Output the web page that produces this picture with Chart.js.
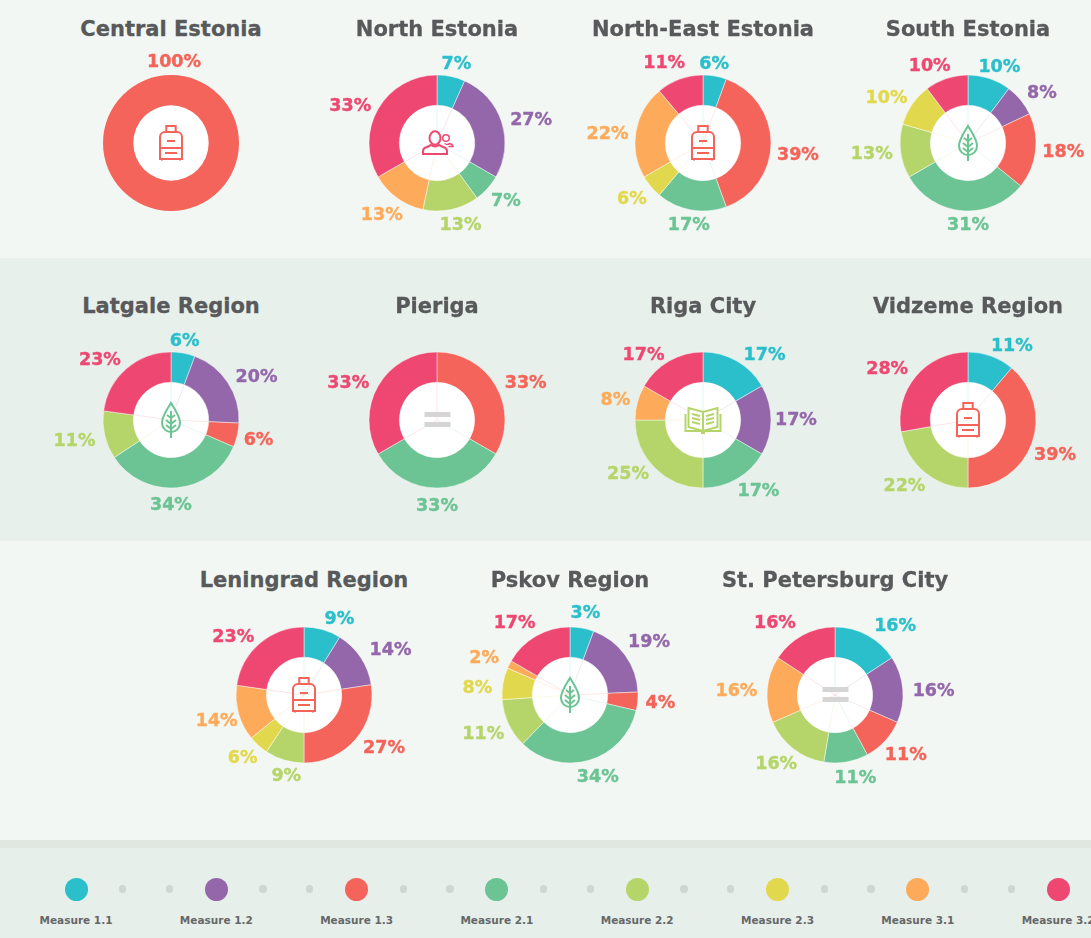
<!DOCTYPE html>
<html>
<head>
<meta charset="utf-8">
<title>Measures by region</title>
<script src="https://cdn.jsdelivr.net/npm/chart.js@4"></script>
<style>
  html, body { margin: 0; padding: 0; }
  body { position: relative; width: 1091px; height: 938px; overflow: hidden; background: #f2f7f3; font-family: "DejaVu Sans", Verdana, sans-serif; }
  .band { position: absolute; left: 0; width: 1091px; }
  .title { position: absolute; width: 300px; height: 30px; line-height: 30px; text-align: center; font-size: 21px; font-weight: bold; color: #58595b; -webkit-text-stroke: 0.3px #58595b; }
  .wrap { position: absolute; width: 260px; height: 210px; }
  .icon { position: absolute; left: 0; top: 0; pointer-events: none; }
  .dot { position: absolute; border-radius: 50%; }
  .measure { position: absolute; width: 120px; text-align: center; font-size: 10.5px; font-weight: bold; color: #666769; top: 913px; line-height: 14px; }
</style>
</head>
<body>
<div class="band" style="top:258px;height:283px;background:#e8f0eb"></div>
<div class="band" style="top:840px;height:8px;background:#e0e6e0"></div>
<div class="band" style="top:848px;height:90px;background:#e6efe9"></div>

<script>
const measures = ['Measure 1.1', 'Measure 1.2', 'Measure 1.3', 'Measure 2.1', 'Measure 2.2', 'Measure 2.3', 'Measure 3.1', 'Measure 3.2'];
const colors = ['#2bbfcb', '#9467ab', '#f4645a', '#6cc494', '#b5d56a', '#e2d84e', '#fdab5a', '#ee4872'];

// share of each measure, same order as measures
const centralEstonia = [0, 0, 100, 0, 0, 0, 0, 0];
const northEstonia = [6.67, 26.67, 0, 6.67, 13.33, 0, 13.33, 33.33];
const northEastEstonia = [5.56, 0, 38.89, 16.67, 0, 5.56, 22.22, 11.11];
const southEstonia = [10.26, 7.69, 17.95, 30.77, 12.82, 10.26, 0, 10.26];
const latgaleRegion = [5.71, 20, 5.71, 34.29, 11.43, 0, 0, 22.86];
const pieriga = [0, 0, 33.33, 33.33, 0, 0, 0, 33.33];
const rigaCity = [16.67, 16.67, 0, 16.67, 25, 0, 8.33, 16.67];
const vidzemeRegion = [11.11, 0, 38.89, 0, 22.22, 0, 0, 27.78];
const leningradRegion = [8.8, 13.8, 27.4, 0, 9.3, 4.8, 13.2, 22.7];
const pskovRegion = [5.7, 18.7, 4.4, 33.7, 11.7, 7.6, 1.9, 16.7];
const stPetersburgCity = [15.79, 15.79, 10.53, 10.53, 15.79, 0, 15.79, 15.79];

// printed labels that do not agree with the drawn slice widths
const printedLabels = {
  'Leningrad Region': [9, 14, 27, 0, 9, 6, 14, 23],
  'Pskov Region': [3, 19, 4, 34, 11, 8, 2, 17]
};

const regionNames = ['Central Estonia', 'North Estonia', 'North-East Estonia', 'South Estonia',
  'Latgale Region', 'Pieriga', 'Riga City', 'Vidzeme Region',
  'Leningrad Region', 'Pskov Region', 'St. Petersburg City'];
const regionValues = [centralEstonia, northEstonia, northEastEstonia, southEstonia,
  latgaleRegion, pieriga, rigaCity, vidzemeRegion,
  leningradRegion, pskovRegion, stPetersburgCity];
const regionIcons = ['bag', 'people', 'bag', 'leaf', 'leaf', 'equal', 'book', 'bag', 'bag', 'leaf', 'equal'];

// layout
const centres = [[171, 143], [437, 143], [703, 143], [968, 143],
  [171, 420], [437, 420], [703, 420], [968, 420],
  [304, 695], [570, 695], [835, 695]];
const titleOffset = 114;
const outerR = 68, innerR = 37.7;

// hand placed label corrections, slice index -> [dx, dy]
const labelNudges = {
  'Central Estonia': { 2: [3, -1] },
  'North Estonia': { 4: [3, -2], 6: [3, 2], 7: [-1, 2] },
  'North-East Estonia': { 0: [-5, 0], 2: [-4, 9], 3: [3, -2], 6: [2, 3], 7: [-5, -5] },
  'South Estonia': { 1: [2, 0], 2: [-3, -4], 3: [8, -3], 4: [2, -2], 7: [-7, -1] },
  'Latgale Region': { 0: [-3, 0], 1: [3, 0], 2: [-3, -1], 3: [-9, 0], 7: [-6, 0] },
  'Pieriga': { 2: [3, 2], 7: [-3, 2] },
  'Riga City': { 0: [12, 4], 1: [-6, -3], 3: [6, -3], 4: [-5, -7], 6: [2, -1], 7: [-10, 4] },
  'Vidzeme Region': { 0: [10, 1], 2: [-6, 4], 7: [-5, 0] },
  'Leningrad Region': { 0: [10, 1], 1: [4, -2], 2: [5, -4], 4: [9, -1], 5: [1, -1], 6: [8, 1], 7: [-6, 2] },
  'Pskov Region': { 0: [-1, -3], 1: [-1, -7], 2: [-2, -2], 4: [3, 1], 5: [-1, 4], 6: [-3, -2], 7: [-6, -3] },
  'St. Petersburg City': { 0: [13, 1], 2: [-2, 1], 3: [4, -1], 4: [2, 1], 7: [-13, -2] }
};

const icons = {
  bag: `<g fill="none" stroke="#f4645a" stroke-width="2"><path d="M-4.7 -11v-6h9.4v6"/><path d="M-11 16v-22a5 5 0 0 1 5-5h12a5 5 0 0 1 5 5v22z"/><path d="M-11 5h22M-4 -2h8M-6 10h12M-9 16v1.5M9 16v1.5"/></g>`,
  people: `<g fill="none" stroke="#ee4872" stroke-width="2"><ellipse cx="-2" cy="-5" rx="5.5" ry="6.7"/><path d="M-14 11v-3q0-3 4-4l4-2q4 3 8 0l4 2q4 1 4 4v3z"/><g stroke-width="1.5"><circle cx="9" cy="-5" r="3.3"/><path d="M7.5 .5q3 2 5 0q3 .5 3.5 3h-4.5"/></g></g>`,
  leaf: `<g fill="none" stroke="#6cc494" stroke-width="2"><path d="M0 -17C-3 -12 -9 -4 -9 3A9 9 0 0 0 9 3C9 -4 3 -12 0 -17z"/><path d="M0 -9V18M-4 -5L0 -2L4 -5M-5 0L0 4L5 0M-5 5L0 9L5 5"/></g>`,
  equal: `<g fill="#d5d5d5"><rect x="-12.5" y="-8" width="26" height="5"/><rect x="-12.5" y="2" width="26" height="5"/></g>`,
  book: `<g fill="none" stroke="#b5d56a" stroke-width="2"><path d="M-14.5 -12L0 -8L14.5 -12V7L0 11L-14.5 7z"/><path d="M0 -8V11"/><path d="M-17.5 -6V11H17.5V-6"/><path d="M-11 -6L-3 -4M-11 -2L-3 0M-11 2L-3 4M3 -4L11 -6M3 0L11 -2M3 4L11 2"/><path d="M-2 12.5h4" stroke-width="3"/></g>`
};

// hole of the ring plus the faint spokes running through it
const holePlugin = {
  id: 'hole',
  beforeDatasetsDraw(chart) {
    const arcs = chart.getDatasetMeta(0).data;
    const { x, y } = arcs[0];
    const c = chart.ctx;
    c.save();
    c.fillStyle = '#ffffff';
    c.beginPath();
    c.arc(x, y, innerR, 0, Math.PI * 2);
    c.fill();
    c.lineWidth = 1;
    arcs.forEach((arc, i) => {
      const v = chart.data.datasets[0].data[i];
      if (!v || v === 100) return;
      c.strokeStyle = colors[i] + '26';
      c.beginPath();
      c.moveTo(x, y);
      c.lineTo(x + Math.cos(arc.startAngle) * innerR, y + Math.sin(arc.startAngle) * innerR);
      c.stroke();
    });
    c.restore();
  }
};

// percent labels around the ring
const labelPlugin = {
  id: 'pctLabels',
  afterDatasetsDraw(chart, args, opts) {
    const arcs = chart.getDatasetMeta(0).data;
    const c = chart.ctx;
    c.save();
    c.font = 'bold 17.5px "DejaVu Sans"';
    c.textAlign = 'center';
    c.textBaseline = 'middle';
    c.lineWidth = 0.4;
    arcs.forEach((arc, i) => {
      const v = chart.data.datasets[0].data[i];
      if (!v) return;
      const text = (opts.labels ? opts.labels[i] : Math.round(v)) + '%';
      // a full ring keeps its label on top
      const a = v === 100 ? arc.startAngle : (arc.startAngle + arc.endAngle) / 2;
      const w = c.measureText(text).width;
      const nudge = opts.nudges[i] || [0, 0];
      const tx = arc.x + Math.cos(a) * (78 + w / 2) + nudge[0];
      const ty = arc.y + Math.sin(a) * 83 + 3 + nudge[1];
      c.fillStyle = colors[i];
      c.strokeStyle = colors[i];
      c.fillText(text, tx, ty);
      c.strokeText(text, tx, ty);
    });
    c.restore();
  }
};

regionNames.forEach((name, idx) => {
  const [cx, cy] = centres[idx];
  const values = regionValues[idx];

  const title = document.createElement('div');
  title.className = 'title';
  title.textContent = name;
  title.style.left = (cx - 150) + 'px';
  title.style.top = (cy - titleOffset - 15 - (idx > 7 ? 1 : 0)) + 'px';
  document.body.appendChild(title);

  const wrap = document.createElement('div');
  wrap.className = 'wrap';
  wrap.style.left = (cx - 130) + 'px';
  wrap.style.top = (cy - 105) + 'px';
  wrap.innerHTML = '<canvas width="260" height="210"></canvas>' +
    '<svg class="icon" width="260" height="210" viewBox="-130 -105 260 210">' + icons[regionIcons[idx]] + '</svg>';
  document.body.appendChild(wrap);

  new Chart(wrap.querySelector('canvas').getContext('2d'), {
    type: 'doughnut',
    data: {
      labels: measures,
      datasets: [{
        data: values,
        backgroundColor: colors,
        borderColor: 'rgba(255,255,255,0.45)',
        borderWidth: ctx => (ctx.raw > 0 && ctx.raw < 100 ? 1 : 0)
      }]
    },
    options: {
      responsive: false,
      animation: false,
      radius: outerR,
      cutout: (innerR / outerR * 100) + '%',
      plugins: {
        legend: { display: false },
        tooltip: { enabled: false },
        pctLabels: { labels: printedLabels[name] || null, nudges: labelNudges[name] || {} }
      }
    },
    plugins: [holePlugin, labelPlugin]
  });
});

// legend strip along the bottom
const legendStart = 76, legendStep = 140.3;
measures.forEach((m, i) => {
  const x = legendStart + i * legendStep;
  const big = document.createElement('div');
  big.className = 'dot';
  big.style.cssText = `left:${x - 11.5}px;top:877.5px;width:23px;height:23px;background:${colors[i]}`;
  document.body.appendChild(big);

  const label = document.createElement('div');
  label.className = 'measure';
  label.textContent = m;
  label.style.left = (x - 60) + 'px';
  document.body.appendChild(label);

  if (i < measures.length - 1) {
    [46.8, 93.5].forEach(off => {
      const small = document.createElement('div');
      small.className = 'dot';
      small.style.cssText = `left:${x + off - 3.7}px;top:885.3px;width:7.4px;height:7.4px;background:#d0d6d2`;
      document.body.appendChild(small);
    });
  }
});
</script>
</body>
</html>
